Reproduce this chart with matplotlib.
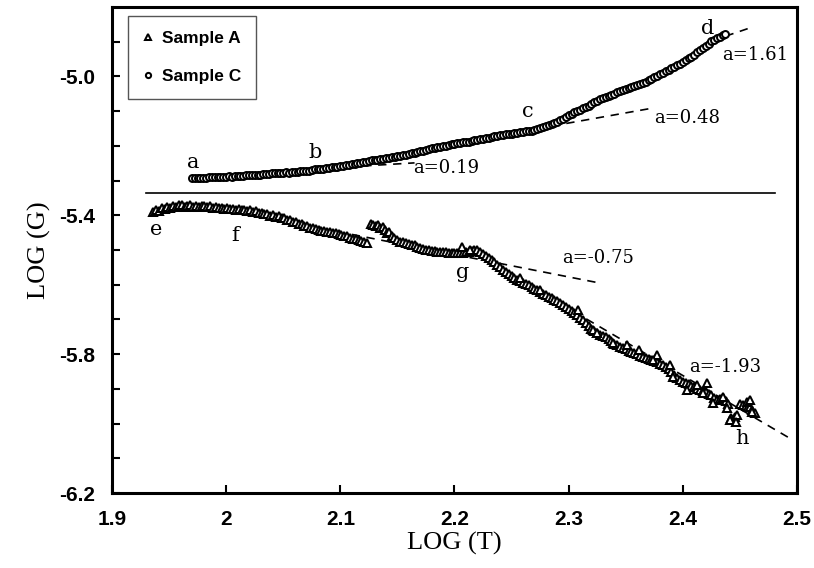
import matplotlib
matplotlib.use("Agg")
import matplotlib.pyplot as plt
from matplotlib.ticker import FixedLocator, FixedFormatter

plt.rcParams['axes.unicode_minus'] = False

# ---- data ----
c_x = [1.9700, 1.9725, 1.9750, 1.9775, 1.9800, 1.9825, 1.9850, 1.9875, 1.9900, 1.9925,
       1.9950, 1.9975, 2.0000, 2.0025, 2.0050, 2.0075, 2.0100, 2.0125, 2.0150, 2.0175,
       2.0200, 2.0225, 2.0250, 2.0275, 2.0300, 2.0325, 2.0350, 2.0375, 2.0400, 2.0425,
       2.0450, 2.0475, 2.0500, 2.0525, 2.0550, 2.0575, 2.0600, 2.0625, 2.0650, 2.0675,
       2.0700, 2.0725, 2.0750, 2.0775, 2.0800, 2.0825, 2.0850, 2.0875, 2.0900, 2.0925,
       2.0950, 2.0975, 2.1000, 2.1025, 2.1050, 2.1075, 2.1100, 2.1125, 2.1150, 2.1175,
       2.1200, 2.1225, 2.1250, 2.1275, 2.1300, 2.1325, 2.1350, 2.1375, 2.1400, 2.1425,
       2.1450, 2.1475, 2.1500, 2.1525, 2.1550, 2.1575, 2.1600, 2.1625, 2.1650, 2.1675,
       2.1700, 2.1725, 2.1750, 2.1775, 2.1800, 2.1825, 2.1850, 2.1875, 2.1900, 2.1925,
       2.1950, 2.1975, 2.2000, 2.2025, 2.2050, 2.2075, 2.2100, 2.2125, 2.2150, 2.2175,
       2.2200, 2.2225, 2.2250, 2.2275, 2.2300, 2.2325, 2.2350, 2.2375, 2.2400, 2.2425,
       2.2450, 2.2475, 2.2500, 2.2525, 2.2550, 2.2575, 2.2600, 2.2625, 2.2650, 2.2675,
       2.2700, 2.2725, 2.2750, 2.2775, 2.2800, 2.2825, 2.2850, 2.2875, 2.2900, 2.2925,
       2.2950, 2.2975, 2.3000, 2.3025, 2.3050, 2.3075, 2.3100, 2.3125, 2.3150, 2.3175,
       2.3200, 2.3225, 2.3250, 2.3275, 2.3300, 2.3325, 2.3350, 2.3375, 2.3400, 2.3425,
       2.3450, 2.3475, 2.3500, 2.3525, 2.3550, 2.3575, 2.3600, 2.3625, 2.3650, 2.3675,
       2.3700, 2.3725, 2.3750, 2.3775, 2.3800, 2.3825, 2.3850, 2.3875, 2.3900, 2.3925,
       2.3950, 2.3975, 2.4000, 2.4025, 2.4050, 2.4075, 2.4100, 2.4125, 2.4150, 2.4175,
       2.4200, 2.4225, 2.4250, 2.4275, 2.4300, 2.4325, 2.4350, 2.4370]
c_y = [-5.294, -5.293, -5.294, -5.292, -5.292, -5.293, -5.291, -5.291, -5.291, -5.290,
       -5.290, -5.289, -5.289, -5.288, -5.289, -5.287, -5.287, -5.286, -5.286, -5.285,
       -5.285, -5.284, -5.284, -5.283, -5.283, -5.281, -5.281, -5.280, -5.279, -5.279,
       -5.278, -5.277, -5.277, -5.276, -5.277, -5.275, -5.274, -5.274, -5.273, -5.272,
       -5.271, -5.271, -5.270, -5.268, -5.268, -5.266, -5.266, -5.264, -5.264, -5.262,
       -5.262, -5.260, -5.259, -5.257, -5.256, -5.255, -5.253, -5.252, -5.250, -5.248,
       -5.247, -5.246, -5.244, -5.242, -5.241, -5.240, -5.239, -5.237, -5.236, -5.234,
       -5.233, -5.232, -5.230, -5.229, -5.227, -5.225, -5.224, -5.222, -5.220, -5.218,
       -5.216, -5.214, -5.212, -5.210, -5.207, -5.205, -5.203, -5.202, -5.200, -5.199,
       -5.197, -5.196, -5.195, -5.193, -5.192, -5.190, -5.189, -5.188, -5.186, -5.184,
       -5.182, -5.181, -5.179, -5.178, -5.176, -5.175, -5.173, -5.172, -5.170, -5.169,
       -5.167, -5.166, -5.165, -5.163, -5.162, -5.161, -5.160, -5.158, -5.157, -5.156,
       -5.154, -5.152, -5.150, -5.147, -5.143, -5.140, -5.136, -5.133, -5.130, -5.126,
       -5.122, -5.117, -5.112, -5.107, -5.103, -5.100, -5.096, -5.092, -5.088, -5.084,
       -5.080, -5.075, -5.070, -5.066, -5.063, -5.060, -5.056, -5.053, -5.050, -5.046,
       -5.043, -5.040, -5.037, -5.034, -5.031, -5.027, -5.024, -5.021, -5.018, -5.015,
       -5.011, -5.007, -5.003, -4.999, -4.994, -4.990, -4.985, -4.981, -4.976, -4.972,
       -4.967, -4.963, -4.958, -4.953, -4.948, -4.943, -4.937, -4.931, -4.925, -4.919,
       -4.912, -4.906, -4.899, -4.894, -4.890, -4.886, -4.882, -4.878]

a_x = [1.9360, 1.9385, 1.9410, 1.9435, 1.9460, 1.9485, 1.9510, 1.9535, 1.9560, 1.9585,
       1.9610, 1.9635, 1.9660, 1.9685, 1.9710, 1.9735, 1.9760, 1.9785, 1.9810, 1.9835,
       1.9860, 1.9885, 1.9910, 1.9935, 1.9960, 1.9985, 2.0010, 2.0035, 2.0060, 2.0085,
       2.0110, 2.0135, 2.0160, 2.0185, 2.0210, 2.0235, 2.0260, 2.0285, 2.0310, 2.0335,
       2.0360, 2.0385, 2.0410, 2.0435, 2.0460, 2.0485, 2.0510, 2.0535, 2.0560, 2.0585,
       2.0610, 2.0635, 2.0660, 2.0685, 2.0710, 2.0735, 2.0760, 2.0785, 2.0810, 2.0835,
       2.0860, 2.0885, 2.0910, 2.0935, 2.0960, 2.0985, 2.1010, 2.1035, 2.1060, 2.1085,
       2.1110, 2.1135, 2.1160, 2.1185, 2.1210, 2.1235, 2.1270, 2.1290, 2.1310, 2.1330,
       2.1350, 2.1370, 2.1390, 2.1410, 2.1430, 2.1450, 2.1470, 2.1500, 2.1525, 2.1550,
       2.1575, 2.1600, 2.1625, 2.1650, 2.1675, 2.1700, 2.1725, 2.1750, 2.1775, 2.1800,
       2.1825, 2.1850, 2.1875, 2.1900, 2.1925, 2.1950, 2.1975, 2.2000, 2.2025, 2.2050,
       2.2075, 2.2100, 2.2125, 2.2150, 2.2175, 2.2200, 2.2225, 2.2250, 2.2275, 2.2300,
       2.2325, 2.2350, 2.2375, 2.2400, 2.2425, 2.2450, 2.2475, 2.2500, 2.2525, 2.2550,
       2.2575, 2.2600, 2.2625, 2.2650, 2.2675, 2.2700, 2.2725, 2.2750, 2.2775, 2.2800,
       2.2825, 2.2850, 2.2875, 2.2900, 2.2925, 2.2950, 2.2975, 2.3000, 2.3025, 2.3050,
       2.3075, 2.3100, 2.3125, 2.3150, 2.3175, 2.3200, 2.3225, 2.3250, 2.3275, 2.3300,
       2.3325, 2.3350, 2.3375, 2.3400, 2.3425, 2.3450, 2.3475, 2.3500, 2.3525, 2.3550,
       2.3575, 2.3600, 2.3625, 2.3650, 2.3675, 2.3700, 2.3725, 2.3750, 2.3775, 2.3800,
       2.3825, 2.3850, 2.3875, 2.3900, 2.3925, 2.3950, 2.3975, 2.4000, 2.4025, 2.4050,
       2.4075, 2.4100, 2.4125, 2.4150, 2.4175, 2.4200, 2.4225, 2.4250, 2.4275, 2.4300,
       2.4325, 2.4350, 2.4375, 2.4400, 2.4420, 2.4440, 2.4460, 2.4475, 2.4500, 2.4525,
       2.4550, 2.4575, 2.4590, 2.4610, 2.4630,
       2.339, 2.351, 2.362, 2.377, 2.374, 2.389, 2.391, 2.404, 2.412, 2.421,
       2.418, 2.426, 2.435, 2.439, 2.441, 2.447, 2.456, 2.459, 2.461, 2.321,
       2.325, 2.308, 2.275, 2.257, 2.207, 2.214]
a_y = [-5.391, -5.384, -5.387, -5.380, -5.382, -5.377, -5.379, -5.374, -5.376, -5.371,
       -5.369, -5.376, -5.372, -5.370, -5.375, -5.372, -5.376, -5.372, -5.374, -5.377,
       -5.374, -5.378, -5.376, -5.380, -5.378, -5.381, -5.379, -5.383, -5.381, -5.385,
       -5.383, -5.386, -5.384, -5.388, -5.386, -5.390, -5.389, -5.393, -5.392, -5.397,
       -5.395, -5.401, -5.399, -5.405, -5.403, -5.409, -5.408, -5.414, -5.413, -5.419,
       -5.418, -5.424, -5.425, -5.430, -5.431, -5.436, -5.436, -5.440, -5.441, -5.444,
       -5.445, -5.448, -5.447, -5.451, -5.452, -5.455, -5.456, -5.459, -5.461, -5.464,
       -5.467, -5.469, -5.472, -5.474, -5.477, -5.480, -5.425, -5.428, -5.431, -5.429,
       -5.437, -5.434, -5.442, -5.450, -5.447, -5.460, -5.466, -5.472, -5.476, -5.478,
       -5.481, -5.482, -5.486, -5.487, -5.491, -5.494, -5.496, -5.499, -5.500, -5.502,
       -5.503, -5.505, -5.506, -5.507, -5.507, -5.508, -5.509, -5.509, -5.510, -5.509,
       -5.508, -5.507, -5.505, -5.503, -5.500, -5.499, -5.505, -5.512, -5.517, -5.522,
       -5.528, -5.535, -5.543, -5.550, -5.557, -5.563, -5.569, -5.574, -5.580, -5.585,
       -5.590, -5.594, -5.597, -5.601, -5.607, -5.612, -5.616, -5.621, -5.626, -5.630,
       -5.634, -5.639, -5.644, -5.648, -5.652, -5.657, -5.663, -5.670, -5.675, -5.681,
       -5.688, -5.695, -5.702, -5.710, -5.718, -5.727, -5.733, -5.739, -5.744, -5.748,
       -5.752, -5.755, -5.763, -5.770, -5.774, -5.778, -5.781, -5.785, -5.790, -5.793,
       -5.797, -5.800, -5.804, -5.808, -5.811, -5.813, -5.817, -5.820, -5.824, -5.828,
       -5.832, -5.836, -5.843, -5.850, -5.859, -5.868, -5.874, -5.880, -5.884, -5.887,
       -5.892, -5.896, -5.900, -5.903, -5.907, -5.910, -5.914, -5.918, -5.925, -5.932,
       -5.929, -5.926, -5.935, -5.944, -5.985, -5.990, -5.980, -5.975, -5.944, -5.947,
       -5.950, -5.951, -5.952, -5.962, -5.970,
       -5.768, -5.774, -5.788, -5.803, -5.817, -5.831, -5.866, -5.903, -5.889, -5.883,
       -5.912, -5.941, -5.924, -5.955, -5.990, -5.996, -5.938, -5.932, -5.967, -5.731,
       -5.739, -5.673, -5.615, -5.581, -5.491, -5.500]

# fitted slope lines (start/end points)
fit_x = [[2.120, 2.165], [2.285, 2.374], [2.425, 2.459], [2.110, 2.327], [2.225, 2.492]]
fit_y = [[-5.258, -5.249], [-5.143, -5.091], [-4.898, -4.860], [-5.455, -5.595], [-5.524, -6.039]]

sep_x = [1.930, 2.481]
sep_y = [-5.335, -5.335]

point_labels = ['a', 'b', 'c', 'd', 'e', 'f', 'g', 'h']
point_lx = [1.971, 2.078, 2.264, 2.422, 1.939, 2.008, 2.207, 2.452]
point_ly = [-5.247, -5.218, -5.102, -4.861, -5.442, -5.457, -5.566, -6.042]

slope_labels = ['a=0.19', 'a=0.48', 'a=1.61', 'a=-0.75', 'a=-1.93']
slope_lx = [2.193, 2.404, 2.463, 2.326, 2.437]
slope_ly = [-5.264, -5.120, -4.938, -5.523, -5.837]

x_ticks = [1.9, 2.0, 2.1, 2.2, 2.3, 2.4, 2.5]
x_ticklabels = ['1.9', '2', '2.1', '2.2', '2.3', '2.4', '2.5']
y_ticks = [-6.2, -6.1, -6.0, -5.9, -5.8, -5.7, -5.6, -5.5, -5.4, -5.3, -5.2, -5.1, -5.0, -4.9]
y_ticklabels = ['-6.2', '', '', '', '-5.8', '', '', '', '-5.4', '', '', '', '-5.0', '']

# ---- figure ----
fig = plt.figure(figsize=(8.14, 5.68), dpi=100)
ax = fig.add_axes([0.1376, 0.132, 0.8415, 0.8557])

sans = ['Liberation Sans Narrow', 'Liberation Sans', 'DejaVu Sans']
serif_ann = ['DejaVu Serif']
serif_lab = ['Liberation Serif', 'DejaVu Serif']

ax.plot(a_x, a_y, linestyle='none', marker='^', markersize=5.8, markerfacecolor='white',
        markeredgecolor='black', markeredgewidth=1.45, label='Sample A', zorder=3)
ax.plot(c_x, c_y, linestyle='none', marker='o', markersize=5.0, markerfacecolor='white',
        markeredgecolor='black', markeredgewidth=1.45, label='Sample C', zorder=3)

for fx, fy in zip(fit_x, fit_y):
    ax.plot(fx, fy, color='black', linestyle=(0, (5, 4)), linewidth=1.2, zorder=2)

ax.plot(sep_x, sep_y, color='black', linewidth=1.2, zorder=2)

for t, x, y in zip(point_labels, point_lx, point_ly):
    ax.text(x, y, t, fontsize=15, family=serif_ann, ha='center', va='center')
for t, x, y in zip(slope_labels, slope_lx, slope_ly):
    ax.text(x, y, t, fontsize=13, family=serif_ann, ha='center', va='center')

ax.set_xlim(1.9, 2.5)
ax.set_ylim(-6.2, -4.8)
ax.xaxis.set_major_locator(FixedLocator(x_ticks))
ax.xaxis.set_major_formatter(FixedFormatter(x_ticklabels))
ax.yaxis.set_major_locator(FixedLocator(y_ticks))
ax.yaxis.set_major_formatter(FixedFormatter(y_ticklabels))
ax.tick_params(direction='in', length=6, width=1.5, pad=12)
for lbl in ax.get_xticklabels() + ax.get_yticklabels():
    lbl.set_family(sans)
    lbl.set_fontweight('bold')
    lbl.set_fontsize(15)

for s in ax.spines.values():
    s.set_linewidth(2.2)

ax.set_xlabel('LOG (T)', family=serif_lab, fontsize=19, labelpad=2)
ax.set_ylabel('LOG (G)', family=serif_lab, fontsize=19, labelpad=6)

leg = ax.legend(loc='upper left', bbox_to_anchor=(0.0234, 0.981), borderaxespad=0,
                frameon=True, fancybox=False, framealpha=1, edgecolor='#555555',
                prop={'family': sans, 'weight': 'bold', 'size': 12.5},
                handlelength=0.6, handletextpad=0.5, labelspacing=1.3, borderpad=0.85,
                markerscale=0.75)
leg.get_frame().set_linewidth(1.0)

fig.savefig('out.png', dpi=100)
